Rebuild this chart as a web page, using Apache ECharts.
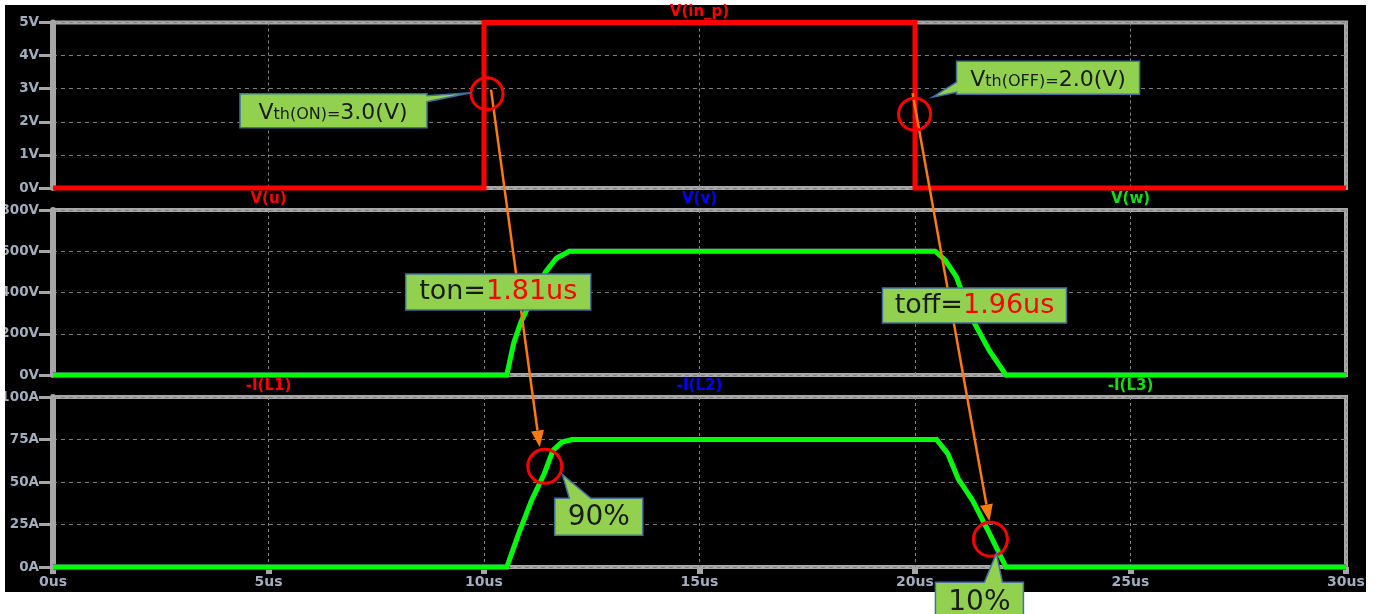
<!DOCTYPE html>
<html><head><meta charset="utf-8">
<script src="https://cdn.jsdelivr.net/npm/echarts@6/dist/echarts.min.js"></script>
<style>
html,body{margin:0;padding:0;background:#fff;width:1375px;height:614px;overflow:hidden;}
#bg{position:absolute;left:5px;top:5px;width:1361px;height:587px;background:#000;}
#chart{position:absolute;left:0;top:0;width:1375px;height:614px;}
#maskL{position:absolute;left:0;top:0;width:5px;height:614px;background:#fff;}
</style></head><body>
<div id="bg"></div><div id="chart"></div><div id="maskL"></div>
<script>
// ---------------- data (time in us) ----------------
const inputTime = [0, 10, 10, 20, 20, 30];
const inputVolt = [0, 0, 5, 5, 0, 0];

const phaseTime = [0, 10.53, 10.69, 10.86, 11.1, 11.43, 11.68, 11.98, 20.47, 20.7, 20.96, 21.03, 21.38, 21.72, 22.11, 30];
const phaseVolt = [0, 0, 155, 258, 363, 500, 566, 600, 600, 557, 476, 436, 251, 120, 0, 0];

const currTime = [0, 10.53, 10.79, 11.1, 11.4, 11.6, 11.81, 12.05, 20.5, 20.76, 21.0, 21.34, 21.73, 22.11, 30];
const currAmp  = [0, 0, 18.6, 39, 55, 68.6, 73.5, 75, 75, 66.7, 52, 39, 19.6, 0, 0];

const timeTicks = [0, 5, 10, 15, 20, 25, 30];
const inputTicks = [0, 1, 2, 3, 4, 5];
const voltTicks = [0, 200, 400, 600, 800];
const ampTicks = [0, 25, 50, 75, 100];

const panel1Names = ['V(in_p)'];
const panel2Names = ['V(u)', 'V(v)', 'V(w)'];
const panel3Names = ['-I(L1)', '-I(L2)', '-I(L3)'];
const namePosTime1 = [15];
const namePosTime3 = [5, 15, 25];

// annotation anchors in data units
const thOnPoint = [10.07, 2.85];     // panel 1
const thOffPoint = [19.99, 2.23];    // panel 1
const pct90Point = [11.41, 59.2];    // panel 3
const pct10Point = [21.75, 16.3];    // panel 3
const tonLabelPoint = [10.33, 402];  // panel 2
const toffLabelPoint = [21.38, 337]; // panel 2

// ---------------- styles ----------------
const GRAY = '#a6a6a6';
const LABEL = '#a3adbd';
const RED = '#ff0000', BLUE = '#0000ff', GREEN = '#00ff00';
const ORANGE = '#fb7a12';
const BOXFILL = '#92d050', BOXLINE = '#41719c';
const yLabelFont = {color: LABEL, fontWeight: 'bold', fontSize: 13.5, fontFamily: 'DejaVu Sans'};
const xLabelFont = {color: LABEL, fontWeight: 'bold', fontSize: 14, fontFamily: 'DejaVu Sans'};

const zip = (a, b) => a.map((v, i) => [v, b[i]]);

const grids = [
  {left: 53, right: 29, top: 22.5, height: 165.5},
  {left: 53, right: 29, top: 210, height: 165},
  {left: 53, right: 29, top: 397, height: 170}
].map(g => Object.assign(g, {show: true, borderColor: GRAY, borderWidth: 4, backgroundColor: 'transparent',
  containLabel: false, outerBoundsMode: 'none'}));

const xAxes = [0, 1, 2].map(i => ({
  type: 'value', gridIndex: i, min: timeTicks[0], max: timeTicks[timeTicks.length - 1], interval: 5,
  axisLine: {show: false},
  axisTick: i === 2 ? {show: true, length: 7, lineStyle: {color: GRAY, width: 6}} : {show: false},
  axisLabel: i === 2 ? Object.assign({show: true, margin: 8, formatter: v => v + 'us'}, xLabelFont) : {show: false},
  splitLine: {show: true, lineStyle: {color: '#858585', width: 1, type: [3, 3]}}
}));

function yAxis(i, ticks, unit) {
  return {
    type: 'value', gridIndex: i, min: ticks[0], max: ticks[ticks.length - 1], interval: ticks[1] - ticks[0],
    axisLine: {show: true, lineStyle: {color: GRAY, width: 6}},
    axisTick: {show: true, length: 14, lineStyle: {color: GRAY, width: 3}},
    axisLabel: Object.assign({margin: 14, formatter: v => v + unit}, yLabelFont),
    splitLine: {show: true, lineStyle: {color: '#7d7d7d', width: 1, type: [4, 4]}}
  };
}
const yAxes = [yAxis(0, inputTicks, 'V'), yAxis(1, voltTicks, 'V'), yAxis(2, ampTicks, 'A')];

function line(name, grid, data, color) {
  return {
    name, type: 'line', xAxisIndex: grid, yAxisIndex: grid, data, symbol: 'none', clip: false,
    lineStyle: {color, width: 5, join: 'miter', cap: 'butt'}, z: 3, silent: true, animation: false
  };
}

const series = [
  line(panel1Names[0], 0, zip(inputTime, inputVolt), RED),
  line(panel2Names[0], 1, zip(phaseTime, phaseVolt), RED),
  line(panel2Names[1], 1, zip(phaseTime, phaseVolt), BLUE),
  line(panel2Names[2], 1, zip(phaseTime, phaseVolt), GREEN),
  line(panel3Names[0], 2, zip(currTime, currAmp), RED),
  line(panel3Names[1], 2, zip(currTime, currAmp), BLUE),
  line(panel3Names[2], 2, zip(currTime, currAmp), GREEN)
];

const chart = echarts.init(document.getElementById('chart'), null, {renderer: 'canvas'});
chart.setOption({animation: false, backgroundColor: 'transparent', grid: grids, xAxis: xAxes, yAxis: yAxes, series});

// ---------------- graphics ----------------
const P = (g, pt) => chart.convertToPixel({gridIndex: g}, pt);
const els = [];
const nameColors = [RED, BLUE, '#10e010'];

function nameLabel(text, g, t, color) {
  const p = P(g, [t, 0]);
  const top = grids[g].top;
  els.push({type: 'text', z: 40, style: {text, x: p[0], y: top - 10.5, align: 'center', verticalAlign: 'middle',
    fill: color, font: 'bold 15px "DejaVu Sans"'}});
}
nameLabel(panel1Names[0], 0, namePosTime1[0], RED);
panel2Names.forEach((n, i) => nameLabel(n, 1, namePosTime3[i], nameColors[i]));
panel3Names.forEach((n, i) => nameLabel(n, 2, namePosTime3[i], nameColors[i]));

function circle(c, r) {
  els.push({type: 'circle', z: 60, shape: {cx: c[0], cy: c[1], r}, style: {fill: 'none', stroke: RED, lineWidth: 3}});
}
function arrow(s, e) {
  const dx = e[0] - s[0], dy = e[1] - s[1], L = Math.hypot(dx, dy);
  const ux = dx / L, uy = dy / L, nx = -uy, ny = ux;
  const hl = 17, hw = 6.5;
  const b = [e[0] - ux * hl, e[1] - uy * hl];
  els.push({type: 'line', z: 50, shape: {x1: s[0], y1: s[1], x2: b[0], y2: b[1]}, style: {stroke: ORANGE, lineWidth: 2.5}});
  els.push({type: 'polygon', z: 50, shape: {points: [e, [b[0] + nx * hw, b[1] + ny * hw], [b[0] - nx * hw, b[1] - ny * hw]]},
    style: {fill: ORANGE}});
}
function callout(c, rel, textRel, styleText, rich) {
  els.push({type: 'polygon', z: 70, shape: {points: rel.map(p => [c[0] + p[0], c[1] + p[1]])},
    style: {fill: BOXFILL, stroke: BOXLINE, lineWidth: 1.5}});
  els.push({type: 'text', z: 71, style: {text: styleText, rich, x: c[0] + textRel[0], y: c[1] + textRel[1],
    align: 'center', verticalAlign: 'middle'}});
}
function box(c, w, h, styleText, rich) {
  const rel = [[-w / 2, -h / 2], [w / 2, -h / 2], [w / 2, h / 2], [-w / 2, h / 2]];
  callout(c, rel, [0, 0], styleText, rich);
}

const cOn = P(0, thOnPoint), cOff = P(0, thOffPoint);
const c90 = P(2, pct90Point), c10 = P(2, pct10Point);
const cTon = P(1, tonLabelPoint), cToff = P(1, toffLabelPoint);

arrow([cOn[0] + 4, cOn[1] - 4], [c90[0] - 5, c90[1] - 19]);
arrow([cOff[0] - 2, cOff[1] - 21], [c10[0] - 1, c10[1] - 18]);

circle(cOn, 16); circle(cOff, 16); circle(c90, 17); circle(c10, 17);

const TXT = '#1a1a1a', FF = '"DejaVu Sans"';
const richTh = {
  a: {fontSize: 22, fontFamily: FF, fill: TXT, verticalAlign: 'bottom', lineHeight: 27},
  b: {fontSize: 16, fontFamily: FF, fill: TXT, verticalAlign: 'bottom', lineHeight: 27, padding: [0, 0, 1, 0]}
};
callout(cOn, [[-247, 0], [-60, 0], [-60, 2], [-16, -1], [-60, 8], [-60, 34], [-247, 34]], [-154, 17],
  '{a|V}{b|th(ON)=}{a|3.0(V)}', richTh);
callout(cOff, [[42, -53], [225, -53], [225, -20], [42, -20], [42, -22], [18, -17], [42, -32]], [133.5, -36.5],
  '{a|V}{b|th(OFF)=}{a|2.0(V)}', richTh);

const richT = {
  k: {fontSize: 27, fontFamily: FF, fill: TXT},
  r: {fontSize: 27, fontFamily: FF, fill: RED}
};
box(cTon, 185, 36, '{k|ton=}{r|1.81us}', richT);
box(cToff, 184, 35, '{k|toff=}{r|1.96us}', richT);

const richP = {p: {fontSize: 28, fontFamily: FF, fill: TXT}};
callout(c90, [[10, 32], [24.6, 32], [17.5, 8], [46, 32], [98, 32], [98, 69], [10, 69]], [54, 51], '{p|90%}', richP);
callout(c10, [[-55, 43], [-6, 43], [6, 14], [12, 43], [33, 43], [33, 86], [-55, 86]], [-11, 63], '{p|10%}', richP);

chart.setOption({graphic: {elements: els}});
</script>
</body></html>
